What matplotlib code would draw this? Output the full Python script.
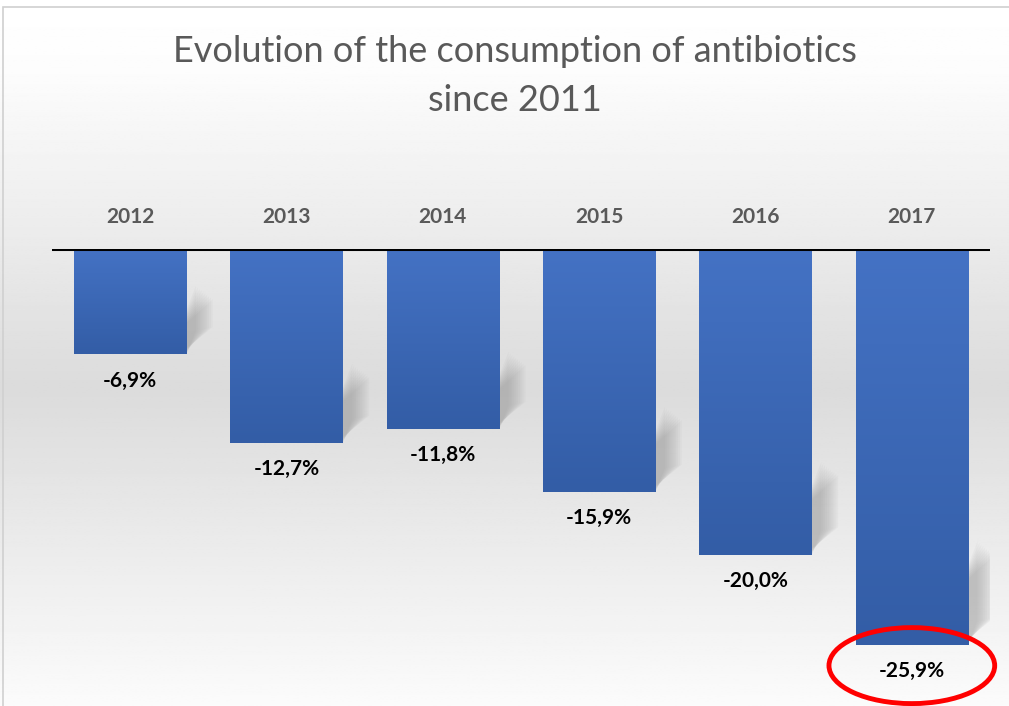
import numpy as np
import matplotlib.pyplot as plt
from matplotlib.patches import Ellipse, Rectangle, Polygon

years = ['2012', '2013', '2014', '2015', '2016', '2017']
values = [-6.9, -12.7, -11.8, -15.9, -20.0, -25.9]
labels = ['-6,9%', '-12,7%', '-11,8%', '-15,9%', '-20,0%', '-25,9%']

plt.rcParams['font.family'] = ['Lato', 'DejaVu Sans']

fig = plt.figure(figsize=(10.09, 7.06), dpi=100)

# background gradient (white -> light grey -> almost white)
bg = fig.add_axes([0, 0, 1, 1], zorder=0)
t = np.linspace(0, 1, 300)
shade = np.interp(t, [0, 0.1, 0.55, 1.0], [1.0, 0.99, 0.86, 0.985])
bg.imshow(np.tile(shade[:, None], (1, 2)), cmap='gray', vmin=0, vmax=1,
          aspect='auto', extent=[0, 1, 0, 1])
bg.set_xlim(0, 1)
bg.set_ylim(0, 1)
bg.axis('off')
fig.add_artist(Rectangle((3 / 1009, -0.01), 1.1, (706 - 7) / 706 + 0.01,
                         transform=fig.transFigure, fill=False,
                         edgecolor='#d0d0d0', linewidth=1.2, zorder=1))

ax = fig.add_axes([52 / 1009, 6 / 706, (990 - 52) / 1009, 451 / 706], zorder=2)
ax.patch.set_alpha(0)
ax.set_xlim(-0.5, 5.5)
ax.set_ylim(-29.5, 0)
ax.axis('off')

x = np.arange(len(values))
w = 0.717
top_c = np.array([68, 114, 196]) / 255
bot_c = np.array([51, 93, 166]) / 255

for i, v in zip(x, values):
    # soft diagonal shadow to the right of each bar
    r = i + w / 2
    depth = 1.2 + 0.12 * abs(v)
    for k in range(10):
        s = 0.012 * k
        shp = Polygon([(r, v + 0.4 - s * 4), (r, v + depth + s * 8),
                       (r + 0.17 - s, v + depth + 1.6 + s * 8),
                       (r + 0.17 - s, v + 1.8 - s * 2)],
                      closed=True, facecolor='#808080', edgecolor='none',
                      alpha=0.05, zorder=1)
        ax.add_patch(shp)
    # bar with vertical gradient
    grad = np.linspace(0, 1, 100)[:, None]
    img = top_c[None, None, :] * (1 - grad[:, :, None]) + bot_c[None, None, :] * grad[:, :, None]
    ax.imshow(np.repeat(img, 2, axis=1), extent=[i - w / 2, i + w / 2, v, 0],
              aspect='auto', origin='upper', zorder=3)

ax.bar(x, values, width=w, color='none', edgecolor='none', zorder=4)
ax.set_xlim(-0.5, 5.5)
ax.set_ylim(-29.5, 0)

ax.axhline(0, color='black', linewidth=2.2, zorder=5)

for i, v, lab in zip(x, values, labels):
    ax.annotate(lab, (i, v), xytext=(0, -26), textcoords='offset pixels',
                ha='center', va='center', fontsize=15, fontweight='bold',
                color='black', zorder=6)
    ax.annotate(years[i], (i, 0), xytext=(0, 32), textcoords='offset pixels',
                ha='center', va='center', fontsize=15, fontweight='bold',
                color='#595959', annotation_clip=False)

ax.add_patch(Ellipse((5, -27.25), 1.06, 4.97, fill=False, edgecolor='#ff0000',
                     linewidth=3.5, clip_on=False, zorder=7))

fig.text(515 / 1009, 1 - 62 / 706, 'Evolution of the consumption of antibiotics',
         ha='center', va='baseline', fontsize=26, color='#595959')
fig.text(515 / 1009, 1 - 111 / 706, 'since 2011',
         ha='center', va='baseline', fontsize=26, color='#595959')

plt.savefig('out.png', dpi=100)
